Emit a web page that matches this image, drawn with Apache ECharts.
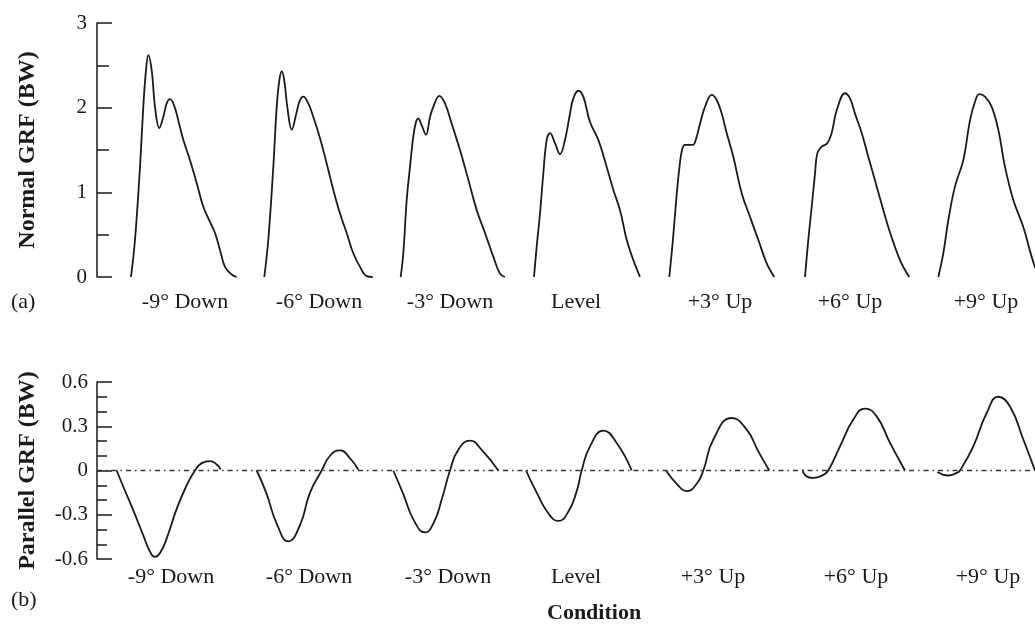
<!DOCTYPE html>
<html>
<head>
<meta charset="utf-8">
<script src="https://cdn.jsdelivr.net/npm/echarts@6/dist/echarts.min.js"></script>
<style>
html,body{margin:0;padding:0;background:#fff;}
#chart{width:1035px;height:626px;}
</style>
</head>
<body>
<div id="chart"></div>
<script>
// ---- Data ----
const conditions = ['-9\u00b0 Down', '-6\u00b0 Down', '-3\u00b0 Down', 'Level', '+3\u00b0 Up', '+6\u00b0 Up', '+9\u00b0 Up'];

// Normal GRF (BW): [time position, force]
const normalDown9 = [[34,0],[38,0.44],[43,1.30],[46.3,2.01],[49,2.44],[51.3,2.62],[54.7,2.44],[58,2.01],[62.3,1.76],[66.3,1.89],[69.7,2.05],[73,2.10],[77,2.03],[81.3,1.85],[86.3,1.62],[93,1.38],[99.7,1.11],[106.3,0.83],[113,0.65],[118,0.52],[123,0.32],[128,0.12],[134.7,0.03],[139.7,0]];
const normalDown6 = [[167.3,0],[171.3,0.44],[176.3,1.30],[179.7,2.01],[182.3,2.32],[184.7,2.43],[187.3,2.32],[190.3,2.01],[194.7,1.74],[199.7,1.95],[203,2.09],[206.3,2.13],[211.3,2.05],[216.3,1.89],[223,1.64],[229.7,1.34],[236.3,1.03],[243,0.75],[249.7,0.52],[256.3,0.28],[263,0.12],[269.7,0.01],[275.7,0]];
const normalDown3 = [[303.7,0],[306.3,0.28],[309.7,0.91],[313,1.30],[316.3,1.66],[319,1.83],[321.3,1.87],[324.7,1.79],[329,1.68],[333,1.89],[336.3,2.01],[342.3,2.14],[348,2.05],[354.7,1.81],[363,1.50],[371.3,1.15],[379.7,0.79],[388,0.52],[396.3,0.24],[403,0.04],[408,0]];
const normalLevel = [[437,0],[439.7,0.36],[443,0.75],[446.3,1.22],[449.7,1.62],[453,1.70],[458,1.58],[463,1.45],[468,1.62],[473,1.93],[476.3,2.11],[481.3,2.20],[486.3,2.13],[493,1.83],[501.3,1.62],[509.7,1.30],[516.3,1.03],[523,0.79],[529.7,0.44],[536.3,0.20],[543,0]];
const normalUp3 = [[572.3,0],[576,0.45],[579.5,0.95],[582.5,1.3],[585,1.5],[588,1.56],[592,1.56],[596,1.56],[599,1.63],[603,1.81],[608,2.01],[614.7,2.15],[619.7,2.09],[624.7,1.93],[629.7,1.70],[636.3,1.42],[644.7,0.99],[653,0.71],[661.3,0.44],[669.7,0.16],[677.3,0]];
const normalUp6 = [[708,0],[711.3,0.44],[714.7,0.83],[718,1.22],[720.3,1.46],[724.7,1.54],[730.3,1.58],[734.7,1.70],[739.7,1.97],[748,2.17],[753,2.11],[758,1.93],[764.7,1.70],[771.3,1.42],[779.7,1.07],[791.3,0.59],[803,0.20],[812.3,0]];
const normalUp9 = [[841.3,0],[846.3,0.28],[851.3,0.67],[858,1.07],[866.3,1.38],[873,1.85],[878,2.07],[882.3,2.16],[888,2.13],[894.7,2.01],[901.3,1.74],[908,1.30],[916.3,0.91],[926.3,0.59],[938,0.12],[945,0]];

// Parallel GRF (BW): [time position, force]
const parallelDown9 = [[19.7,0],[26.3,-0.11],[36.3,-0.27],[46.3,-0.44],[53,-0.55],[58,-0.586],[63,-0.56],[69.7,-0.46],[79.7,-0.26],[89.7,-0.10],[98,0],[104.7,0.05],[113,0.064],[119.7,0.041],[123.7,0.007]];
const parallelDown6 = [[159.7,0],[169.7,-0.16],[179.7,-0.36],[191.3,-0.48],[203,-0.37],[213,-0.15],[224.7,0],[233,0.10],[243,0.137],[253,0.083],[261.3,0.005]];
const parallelDown3 = [[296.3,0],[306.3,-0.16],[317,-0.34],[328,-0.42],[337,-0.35],[345,-0.19],[353,0],[361.3,0.14],[373,0.203],[384.7,0.14],[401.3,0]];
const parallelLevel = [[429,0],[439.7,-0.15],[451.3,-0.29],[461.3,-0.342],[471.3,-0.28],[479.7,-0.14],[484.7,0],[493,0.164],[506.3,0.27],[519.7,0.187],[534.7,0]];
const parallelUp3 = [[569,0],[579.7,-0.09],[589.7,-0.14],[599.7,-0.09],[606.3,0],[616.3,0.21],[634.7,0.356],[649.7,0.277],[661.3,0.13],[672.3,0]];
const parallelUp6 = [[705.7,0.007],[708,-0.03],[716.3,-0.05],[726.3,-0.03],[731.3,0],[743,0.164],[756.3,0.345],[768,0.42],[779.7,0.367],[793,0.187],[808,0]];
const parallelUp9 = [[840.3,-0.01],[851.3,-0.034],[859.7,-0.016],[863,0],[876.3,0.164],[889.7,0.39],[901.3,0.50],[913,0.434],[926.3,0.21],[938,0]];

const zeroLine = [[0,0],[938,0]];

const normalSeriesData = [normalDown9, normalDown6, normalDown3, normalLevel, normalUp3, normalUp6, normalUp9];
const parallelSeriesData = [parallelDown9, parallelDown6, parallelDown3, parallelLevel, parallelUp3, parallelUp6, parallelUp9];

// ---- Chart ----
const INK = '#1a1a1a';
const SERIF = '"Liberation Serif", "Times New Roman", serif';
const topLabelPos = [88, 222, 353, 479, 623, 753, 889];
const botLabelPos = [74, 212, 351, 479, 616, 759, 891];

function catFormatter(posArr) {
  return function (v) {
    let best = 0, d = Infinity;
    posArr.forEach((p, i) => { if (Math.abs(p - v) < d) { d = Math.abs(p - v); best = i; } });
    return conditions[best];
  };
}

function curveSeries(data, idx, name, smooth) {
  return {
    type: 'line', name: name, xAxisIndex: idx, yAxisIndex: idx, data: data,
    showSymbol: false, symbol: 'none', smooth: smooth, clip: true,
    lineStyle: { color: INK, width: 1.8 }, silent: true, animation: false
  };
}

const series = [];
normalSeriesData.forEach((d, i) => series.push(curveSeries(d, 0, 'Normal ' + conditions[i], 0.4)));
parallelSeriesData.forEach((d, i) => series.push(curveSeries(d, 1, 'Parallel ' + conditions[i], 0.5)));
series.push({
  type: 'line', name: 'zero', xAxisIndex: 1, yAxisIndex: 1, data: zeroLine,
  showSymbol: false, symbol: 'none', silent: true, animation: false,
  lineStyle: { color: '#333', width: 1.3, type: [5, 4, 1.5, 4] }
});

const xAxisCommon = {
  type: 'value', min: 0, max: 938,
  axisLine: { show: false }, axisTick: { show: false }, splitLine: { show: false }
};

const option = {
  backgroundColor: '#fff',
  animation: false,
  textStyle: { fontFamily: SERIF, color: INK },
  title: [
    { text: '(a)', left: 11, top: 291, padding: 0, textStyle: { fontFamily: SERIF, fontSize: 22, fontWeight: 'normal', color: INK } },
    { text: '(b)', left: 11, top: 589, padding: 0, textStyle: { fontFamily: SERIF, fontSize: 22, fontWeight: 'normal', color: INK } },
    { text: 'Condition', left: 547, top: 602, padding: 0, textStyle: { fontFamily: SERIF, fontSize: 22, fontWeight: 'bold', color: INK } }
  ],
  grid: [
    { left: 97, top: 23, width: 938, height: 254, containLabel: false },
    { left: 97, top: 382, width: 938, height: 177, containLabel: false }
  ],
  xAxis: [
    Object.assign({}, xAxisCommon, {
      gridIndex: 0,
      axisLabel: { customValues: topLabelPos, formatter: catFormatter(topLabelPos), margin: 14, fontFamily: SERIF, fontSize: 22, color: INK }
    }),
    Object.assign({}, xAxisCommon, {
      gridIndex: 1,
      axisLabel: { customValues: botLabelPos, formatter: catFormatter(botLabelPos), margin: 7, fontFamily: SERIF, fontSize: 22, color: INK }
    })
  ],
  yAxis: [
    {
      type: 'value', gridIndex: 0, min: 0, max: 3, interval: 1,
      name: 'Normal GRF (BW)', nameLocation: 'middle', nameGap: 57,
      nameTextStyle: { fontFamily: SERIF, fontSize: 24, fontWeight: 'bold', color: INK },
      axisLine: { show: true, lineStyle: { color: INK, width: 1.5 } },
      axisTick: { show: true, inside: true, length: 15, lineStyle: { color: INK, width: 1.5 } },
      minorTick: { show: true, splitNumber: 2, length: 12, lineStyle: { color: INK, width: 1.5 } },
      splitLine: { show: false },
      axisLabel: { margin: 10, fontFamily: SERIF, fontSize: 21, color: INK, formatter: v => String(Math.round(v)) }
    },
    {
      type: 'value', gridIndex: 1, min: -0.6, max: 0.6, interval: 0.3,
      name: 'Parallel GRF (BW)', nameLocation: 'middle', nameGap: 57,
      nameTextStyle: { fontFamily: SERIF, fontSize: 24, fontWeight: 'bold', color: INK },
      axisLine: { show: true, lineStyle: { color: INK, width: 1.5 } },
      axisTick: { show: true, inside: true, length: 15, lineStyle: { color: INK, width: 1.5 } },
      minorTick: { show: true, splitNumber: 3, length: 10, lineStyle: { color: INK, width: 1.5 } },
      splitLine: { show: false },
      axisLabel: { margin: 9, fontFamily: SERIF, fontSize: 21, color: INK,
        formatter: v => { const r = Math.round(v * 10) / 10; return r === 0 ? '0' : r.toFixed(1); } }
    }
  ],
  series: series
};

const chart = echarts.init(document.getElementById('chart'), null, { renderer: 'canvas' });
chart.setOption(option);
</script>
</body>
</html>
